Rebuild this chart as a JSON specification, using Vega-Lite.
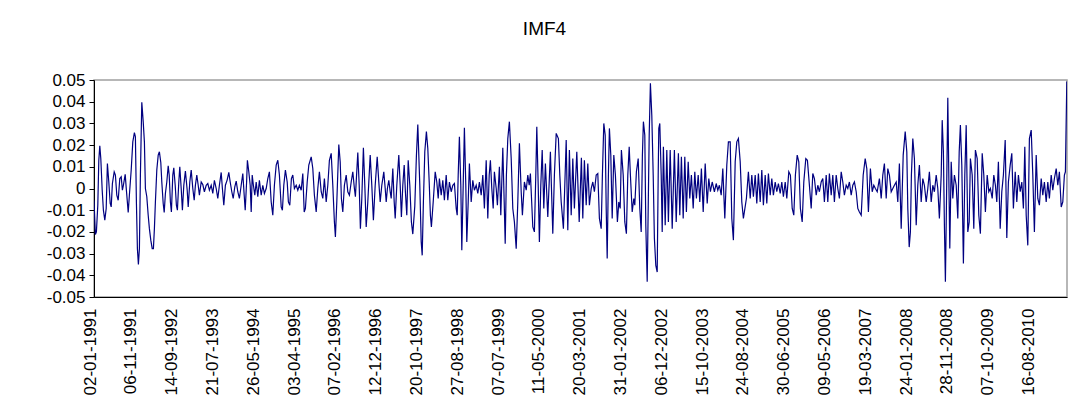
{
  "$schema": "https://vega.github.io/schema/vega-lite/v6.json",
  "width": 973,
  "height": 217,
  "autosize": {"type": "none"},
  "padding": {"left": 94, "top": 80, "right": 16, "bottom": 113},
  "background": "white",
  "title": {"text": "IMF4", "fontSize": 19, "font": "Liberation Sans", "fontWeight": "normal", "color": "#000000", "anchor": "middle", "frame": "group", "dx": -36, "offset": 17, "baseline": "alphabetic"},
  "data": {"values": [
    {"t":0,"v":-0.0054},{"t":7,"v":-0.0212},{"t":12,"v":-0.020},{"t":19,"v":-0.0077},{"t":24,"v":0.013},{"t":29,"v":0.0197},{"t":34,"v":0.0138},{"t":41,"v":-0.0008},{"t":47,"v":-0.010},{"t":54,"v":-0.0146},{"t":61,"v":-0.0092},{"t":67,"v":0.0115},{"t":74,"v":0.003},{"t":81,"v":-0.0069},{"t":86,"v":-0.0085},{"t":92,"v":0.0023},{"t":101,"v":0.0077},{"t":107,"v":0.0062},{"t":114,"v":-0.0031},{"t":121,"v":-0.0054},{"t":129,"v":0.0046},{"t":136,"v":0.0054},{"t":142,"v":-0.0008},{"t":147,"v":0.0015},{"t":156,"v":0.0065},{"t":162,"v":-0.0008},{"t":171,"v":-0.011},{"t":177,"v":-0.003},{"t":186,"v":0.0085},{"t":194,"v":0.0215},{"t":202,"v":0.0258},{"t":207,"v":0.0238},{"t":212,"v":-0.0062},{"t":217,"v":-0.0277},{"t":222,"v":-0.035},{"t":227,"v":-0.0277},{"t":232,"v":0.0062},{"t":239,"v":0.0397},{"t":246,"v":0.0308},{"t":252,"v":0.0215},{"t":257,"v":0},{"t":264,"v":-0.0038},{"t":271,"v":-0.0123},{"t":277,"v":-0.0185},{"t":284,"v":-0.0238},{"t":291,"v":-0.0277},{"t":297,"v":-0.0277},{"t":302,"v":-0.0185},{"t":307,"v":-0.0062},{"t":314,"v":0.0085},{"t":321,"v":0.0154},{"t":327,"v":0.0169},{"t":334,"v":0.012},{"t":339,"v":0.003},{"t":346,"v":-0.0069},{"t":351,"v":-0.011},{"t":357,"v":-0.0023},{"t":364,"v":0.003},{"t":371,"v":0.0105},{"t":376,"v":0.0062},{"t":382,"v":-0.0062},{"t":387,"v":-0.0108},{"t":394,"v":0.0062},{"t":399,"v":0.0095},{"t":406,"v":0.0015},{"t":412,"v":-0.0077},{"t":417,"v":-0.010},{"t":424,"v":0.003},{"t":429,"v":0.010},{"t":436,"v":0},{"t":442,"v":-0.010},{"t":449,"v":0.0015},{"t":457,"v":0.008},{"t":466,"v":-0.0008},{"t":471,"v":-0.0085},{"t":479,"v":0.003},{"t":486,"v":0.0085},{"t":494,"v":0},{"t":501,"v":-0.0054},{"t":507,"v":0.0015},{"t":514,"v":0.0062},{"t":521,"v":0.0015},{"t":527,"v":-0.0031},{"t":536,"v":0.003},{"t":544,"v":0.0018},{"t":552,"v":-0.0015},{"t":561,"v":0.0015},{"t":569,"v":0.0023},{"t":577,"v":-0.0008},{"t":586,"v":0.0015},{"t":594,"v":-0.0023},{"t":602,"v":0.0038},{"t":611,"v":0},{"t":619,"v":-0.0046},{"t":627,"v":0.0015},{"t":636,"v":0.0074},{"t":642,"v":0},{"t":649,"v":-0.0077},{"t":657,"v":0.0015},{"t":666,"v":0.004},{"t":674,"v":0.0074},{"t":681,"v":0.003},{"t":689,"v":-0.0015},{"t":696,"v":-0.0046},{"t":704,"v":0.0008},{"t":711,"v":0.0034},{"t":719,"v":-0.0015},{"t":727,"v":-0.0046},{"t":736,"v":0.0015},{"t":744,"v":0.0069},{"t":751,"v":-0.0031},{"t":756,"v":-0.010},{"t":763,"v":0.003},{"t":767,"v":0.013},{"t":774,"v":0.0077},{"t":781,"v":0.0015},{"t":786,"v":-0.0108},{"t":791,"v":0.0062},
    {"t":797,"v":0.0015},{"t":804,"v":-0.0031},{"t":811,"v":0.003},{"t":819,"v":-0.0038},{"t":827,"v":0.0038},{"t":836,"v":-0.0031},{"t":844,"v":0.0015},{"t":852,"v":-0.0023},{"t":861,"v":0},{"t":869,"v":0.0046},{"t":877,"v":0.0077},{"t":886,"v":-0.0062},{"t":894,"v":-0.0123},{"t":902,"v":0.0015},{"t":911,"v":0.0108},{"t":919,"v":0.013},{"t":927,"v":0.0062},{"t":936,"v":-0.0085},{"t":942,"v":-0.010},{"t":949,"v":0.0015},{"t":957,"v":0.0085},{"t":966,"v":0.003},{"t":972,"v":-0.0062},{"t":979,"v":-0.0077},{"t":987,"v":0.0046},{"t":994,"v":0.0062},{"t":1002,"v":0},{"t":1011,"v":0.0015},{"t":1019,"v":-0.0008},{"t":1027,"v":0.0015},{"t":1036,"v":-0.0008},{"t":1044,"v":0.0069},{"t":1051,"v":-0.0108},{"t":1057,"v":-0.0092},{"t":1066,"v":0.003},{"t":1074,"v":0.0108},{"t":1086,"v":0.0146},{"t":1094,"v":0.0092},{"t":1102,"v":-0.0031},{"t":1111,"v":-0.0108},{"t":1119,"v":0},{"t":1127,"v":0.0077},{"t":1136,"v":-0.0015},{"t":1144,"v":-0.0046},{"t":1152,"v":0.0046},{"t":1161,"v":-0.0062},{"t":1169,"v":0.0015},{"t":1177,"v":0.013},{"t":1186,"v":0.0162},{"t":1194,"v":0.0015},{"t":1202,"v":-0.0154},{"t":1207,"v":-0.0223},{"t":1214,"v":-0.0062},{"t":1224,"v":0.0203},{"t":1231,"v":0.0123},{"t":1237,"v":-0.0046},{"t":1244,"v":-0.0108},{"t":1252,"v":0.0015},{"t":1261,"v":0.0062},{"t":1269,"v":-0.0015},{"t":1277,"v":-0.0031},{"t":1286,"v":0.003},{"t":1294,"v":0.0077},{"t":1302,"v":0},{"t":1307,"v":-0.0038},{"t":1319,"v":0.0166},{"t":1326,"v":0.0015},{"t":1332,"v":-0.0185},{"t":1339,"v":-0.0046},{"t":1347,"v":0.0188},{"t":1354,"v":0.0015},{"t":1361,"v":-0.0177},{"t":1369,"v":-0.0062},{"t":1381,"v":0.0154},{"t":1389,"v":0.0015},{"t":1397,"v":-0.0146},{"t":1406,"v":0.0015},{"t":1416,"v":0.0146},{"t":1424,"v":0.003},{"t":1431,"v":-0.0062},{"t":1439,"v":0.0015},{"t":1449,"v":0.0077},{"t":1456,"v":0},{"t":1461,"v":-0.0062},{"t":1467,"v":0},{"t":1474,"v":0.0038},{"t":1481,"v":-0.0015},{"t":1486,"v":-0.0046},{"t":1494,"v":0.0092},{"t":1501,"v":-0.0062},{"t":1506,"v":-0.0138},{"t":1514,"v":0.0015},{"t":1524,"v":0.0154},{"t":1531,"v":0.0015},{"t":1537,"v":-0.0131},{"t":1544,"v":0.0015},{"t":1551,"v":0.0108},{"t":1557,"v":-0.0015},{"t":1564,"v":-0.0123},{"t":1571,"v":0.013},{"t":1579,"v":0.0015},{"t":1587,"v":-0.0154},{"t":1594,"v":-0.021},{"t":1604,"v":-0.008},{"t":1612,"v":0.015},{"t":1619,"v":0.0295},
    {"t":1629,"v":0.0015},{"t":1636,"v":-0.0246},{"t":1641,"v":-0.0308},{"t":1647,"v":-0.0062},{"t":1654,"v":0.0169},{"t":1662,"v":0.0262},{"t":1669,"v":0.0185},{"t":1676,"v":0.003},{"t":1682,"v":-0.0123},{"t":1687,"v":-0.0177},{"t":1696,"v":-0.0062},{"t":1706,"v":0.0077},{"t":1714,"v":0.003},{"t":1721,"v":-0.0046},{"t":1727,"v":0.0046},{"t":1736,"v":-0.0031},{"t":1744,"v":0.0038},{"t":1752,"v":-0.0054},{"t":1761,"v":0.0062},{"t":1769,"v":-0.0054},{"t":1777,"v":0.003},{"t":1786,"v":-0.0015},{"t":1794,"v":0.0015},{"t":1802,"v":0.0023},{"t":1811,"v":-0.0092},{"t":1816,"v":-0.0123},{"t":1821,"v":0.0062},{"t":1827,"v":0.0238},{"t":1834,"v":0.0015},{"t":1839,"v":-0.0285},{"t":1846,"v":0.0015},{"t":1852,"v":0.028},{"t":1859,"v":0.0015},{"t":1864,"v":-0.0246},{"t":1871,"v":-0.0062},{"t":1877,"v":0.0115},{"t":1886,"v":-0.0062},{"t":1894,"v":0.0038},{"t":1902,"v":-0.0008},{"t":1911,"v":0.0015},{"t":1919,"v":-0.0023},{"t":1927,"v":0.003},{"t":1936,"v":-0.0031},{"t":1944,"v":0.0062},{"t":1952,"v":-0.0092},{"t":1961,"v":0.013},{"t":1969,"v":-0.0138},{"t":1976,"v":0.0062},{"t":1982,"v":0.013},{"t":1989,"v":0},{"t":1996,"v":-0.0092},{"t":2002,"v":0.0077},{"t":2011,"v":0},{"t":2017,"v":-0.0077},{"t":2027,"v":0.010},{"t":2034,"v":-0.0123},{"t":2044,"v":0.0188},{"t":2051,"v":-0.0062},{"t":2056,"v":-0.0254},{"t":2062,"v":0.0062},{"t":2069,"v":0.023},{"t":2077,"v":0.0308},{"t":2086,"v":0.0138},{"t":2094,"v":-0.0092},{"t":2102,"v":-0.0154},{"t":2111,"v":-0.0277},{"t":2119,"v":-0.0062},{"t":2127,"v":0.0208},{"t":2136,"v":-0.0015},{"t":2142,"v":-0.0123},{"t":2152,"v":0.003},{"t":2161,"v":-0.0008},{"t":2169,"v":0.0062},{"t":2176,"v":0.0015},{"t":2182,"v":0.0069},{"t":2194,"v":-0.0177},{"t":2202,"v":-0.020},{"t":2209,"v":0.0062},{"t":2214,"v":0.0285},{"t":2221,"v":0.0015},{"t":2227,"v":-0.0246},{"t":2234,"v":0.0015},{"t":2241,"v":0.0177},{"t":2249,"v":-0.0092},{"t":2257,"v":0.0115},{"t":2269,"v":-0.0131},{"t":2276,"v":0.003},{"t":2282,"v":0.0169},{"t":2294,"v":-0.0208},{"t":2302,"v":0.0062},{"t":2311,"v":0.0254},{"t":2322,"v":0.023},{"t":2329,"v":0.0062},{"t":2336,"v":-0.0062},{"t":2347,"v":-0.0185},{"t":2354,"v":0.0015},{"t":2361,"v":0.0223},{"t":2369,"v":-0.0192},{"t":2377,"v":0.0177},{"t":2386,"v":-0.0123},{"t":2394,"v":0.0138},{"t":2402,"v":-0.0092},{"t":2414,"v":0.0169},{"t":2426,"v":-0.0154},
    {"t":2437,"v":0.0142},{"t":2444,"v":-0.0138},{"t":2452,"v":0.013},{"t":2461,"v":-0.0077},{"t":2469,"v":0.0115},{"t":2477,"v":-0.0077},{"t":2486,"v":0},{"t":2494,"v":0.003},{"t":2502,"v":-0.0015},{"t":2511,"v":0.0062},{"t":2519,"v":0.0069},{"t":2527,"v":-0.0138},{"t":2536,"v":-0.0185},{"t":2542,"v":0.0062},{"t":2549,"v":0.030},{"t":2556,"v":0.0246},{"t":2561,"v":-0.0092},{"t":2566,"v":-0.0323},{"t":2572,"v":0.0062},{"t":2577,"v":0.0277},{"t":2584,"v":0.0154},{"t":2591,"v":-0.0138},{"t":2599,"v":0.0154},{"t":2607,"v":0.0062},{"t":2617,"v":-0.0154},{"t":2624,"v":-0.0062},{"t":2631,"v":-0.0092},{"t":2637,"v":0.0177},{"t":2646,"v":0.0062},{"t":2654,"v":-0.0154},{"t":2662,"v":-0.0208},{"t":2669,"v":0.0062},{"t":2676,"v":0.0192},{"t":2682,"v":0.0062},{"t":2691,"v":-0.0108},{"t":2699,"v":-0.0046},{"t":2704,"v":-0.0077},{"t":2712,"v":0.0077},{"t":2721,"v":0.0138},{"t":2729,"v":-0.0092},{"t":2736,"v":-0.020},{"t":2742,"v":0.0154},{"t":2747,"v":0.0308},{"t":2754,"v":0.0246},{"t":2759,"v":-0.0169},{"t":2766,"v":-0.043},{"t":2771,"v":-0.0092},{"t":2776,"v":0.0246},{"t":2782,"v":0.0485},{"t":2789,"v":0.0338},{"t":2796,"v":0.0062},{"t":2802,"v":-0.023},{"t":2809,"v":-0.0354},{"t":2816,"v":-0.0385},{"t":2821,"v":0.0062},{"t":2824,"v":0.0277},{"t":2829,"v":0.030},{"t":2836,"v":0.0062},{"t":2841,"v":-0.020},{"t":2847,"v":0.0192},{"t":2856,"v":-0.0169},{"t":2864,"v":0.0177},{"t":2872,"v":-0.0154},{"t":2881,"v":0.0177},{"t":2891,"v":-0.0185},{"t":2902,"v":0.0177},{"t":2911,"v":-0.0154},{"t":2922,"v":0.0162},{"t":2929,"v":-0.0123},{"t":2937,"v":0.0146},{"t":2946,"v":-0.0138},{"t":2954,"v":0.0146},{"t":2962,"v":-0.0108},{"t":2971,"v":0.0123},{"t":2979,"v":-0.0046},{"t":2987,"v":0.0062},{"t":2996,"v":-0.0092},{"t":3004,"v":0.0077},{"t":3012,"v":-0.0046},{"t":3021,"v":0.0062},{"t":3029,"v":-0.0062},{"t":3037,"v":0.0092},{"t":3046,"v":-0.0108},{"t":3056,"v":0.0115},{"t":3066,"v":-0.0069},{"t":3074,"v":0.0046},{"t":3082,"v":-0.0015},{"t":3091,"v":0.003},{"t":3102,"v":-0.0015},{"t":3111,"v":0.0023},{"t":3119,"v":-0.0008},{"t":3127,"v":0.0015},{"t":3136,"v":-0.0031},{"t":3144,"v":0.0092},{"t":3154,"v":-0.0138},{"t":3164,"v":0.0108},{"t":3172,"v":0.0215},{"t":3181,"v":0.0215},{"t":3189,"v":-0.0138},{"t":3197,"v":-0.0238},{"t":3206,"v":0.0123},{"t":3214,"v":0.0215},{"t":3222,"v":0.023},{"t":3231,"v":0.0123},{"t":3239,"v":-0.0062},{"t":3247,"v":-0.0138},
    {"t":3262,"v":-0.0046},{"t":3272,"v":0.0077},{"t":3281,"v":-0.0046},{"t":3289,"v":0.0062},{"t":3297,"v":-0.0038},{"t":3306,"v":0.0062},{"t":3314,"v":-0.0069},{"t":3322,"v":0.0069},{"t":3331,"v":-0.0062},{"t":3339,"v":0.0085},{"t":3347,"v":-0.0077},{"t":3356,"v":0.0062},{"t":3364,"v":-0.0069},{"t":3372,"v":0.0069},{"t":3381,"v":-0.0031},{"t":3389,"v":0.0046},{"t":3397,"v":-0.0031},{"t":3406,"v":0.003},{"t":3414,"v":-0.0015},{"t":3422,"v":0.0023},{"t":3431,"v":-0.0023},{"t":3439,"v":0.003},{"t":3447,"v":-0.0038},{"t":3456,"v":0.003},{"t":3464,"v":-0.0046},{"t":3474,"v":0.0077},{"t":3482,"v":0.0062},{"t":3491,"v":-0.0092},{"t":3499,"v":-0.0123},{"t":3507,"v":0.0062},{"t":3516,"v":0.0154},{"t":3524,"v":0.0123},{"t":3532,"v":-0.0092},{"t":3541,"v":-0.0154},{"t":3549,"v":0.003},{"t":3559,"v":0.0138},{"t":3567,"v":0.013},{"t":3577,"v":0.0015},{"t":3586,"v":-0.0092},{"t":3594,"v":0.0069},{"t":3602,"v":0.0046},{"t":3611,"v":-0.0031},{"t":3619,"v":0.0015},{"t":3627,"v":-0.0015},{"t":3636,"v":0.003},{"t":3644,"v":0.0046},{"t":3652,"v":-0.0062},{"t":3661,"v":0.0062},{"t":3669,"v":-0.0062},{"t":3677,"v":0.0069},{"t":3686,"v":-0.0031},{"t":3694,"v":0.0062},{"t":3702,"v":-0.0062},{"t":3711,"v":0.0062},{"t":3719,"v":0},{"t":3727,"v":-0.0046},{"t":3736,"v":0.0077},{"t":3744,"v":0.003},{"t":3752,"v":-0.0031},{"t":3761,"v":0.0015},{"t":3769,"v":0},{"t":3777,"v":0.003},{"t":3786,"v":-0.0031},{"t":3794,"v":0.0015},{"t":3802,"v":0.003},{"t":3811,"v":-0.0015},{"t":3819,"v":-0.0092},{"t":3827,"v":-0.0108},{"t":3836,"v":-0.0123},{"t":3846,"v":0.0062},{"t":3856,"v":0.0138},{"t":3864,"v":0.0092},{"t":3872,"v":-0.0108},{"t":3882,"v":0.0092},{"t":3891,"v":-0.0015},{"t":3899,"v":0.0015},{"t":3907,"v":0},{"t":3916,"v":-0.0015},{"t":3927,"v":0.0046},{"t":3936,"v":-0.0046},{"t":3944,"v":0.0062},{"t":3952,"v":0.0115},{"t":3961,"v":-0.0046},{"t":3969,"v":0.0092},{"t":3977,"v":0.0062},{"t":3986,"v":-0.0015},{"t":3994,"v":0},{"t":4002,"v":0.0015},{"t":4011,"v":0.003},{"t":4019,"v":-0.0062},{"t":4027,"v":0.0115},{"t":4036,"v":-0.0185},{"t":4046,"v":0.0154},{"t":4056,"v":0.0262},{"t":4064,"v":0.0169},{"t":4069,"v":-0.0092},{"t":4076,"v":-0.027},
    {"t":4082,"v":-0.020},{"t":4087,"v":0.0062},{"t":4094,"v":0.023},{"t":4102,"v":0.0138},{"t":4111,"v":-0.0169},{"t":4119,"v":0.0015},{"t":4127,"v":0.0108},{"t":4136,"v":-0.0062},{"t":4144,"v":0.0046},{"t":4152,"v":0.0015},{"t":4161,"v":-0.0062},{"t":4169,"v":0},{"t":4177,"v":0.0077},{"t":4186,"v":-0.0062},{"t":4194,"v":0.0015},{"t":4202,"v":-0.0015},{"t":4211,"v":0.0062},{"t":4219,"v":0},{"t":4227,"v":-0.0138},{"t":4236,"v":0.0062},{"t":4241,"v":0.0315},{"t":4247,"v":0.0169},{"t":4252,"v":-0.0169},{"t":4257,"v":-0.043},{"t":4262,"v":-0.0092},{"t":4269,"v":0.0418},{"t":4274,"v":0.0062},{"t":4279,"v":-0.0277},{"t":4286,"v":0.0123},{"t":4294,"v":-0.0046},{"t":4302,"v":0.0062},{"t":4311,"v":0.0015},{"t":4319,"v":-0.0138},{"t":4326,"v":0.0169},{"t":4332,"v":0.0292},{"t":4339,"v":0.0108},{"t":4347,"v":-0.0346},{"t":4354,"v":0.0062},{"t":4361,"v":0.0292},{"t":4369,"v":-0.020},{"t":4376,"v":-0.0154},{"t":4382,"v":0.0138},{"t":4391,"v":0.0062},{"t":4399,"v":-0.0185},{"t":4407,"v":0.0177},{"t":4416,"v":0.0138},{"t":4424,"v":-0.0123},{"t":4432,"v":-0.0208},{"t":4441,"v":0.0162},{"t":4449,"v":0.0062},{"t":4457,"v":-0.0108},{"t":4466,"v":0.0062},{"t":4474,"v":-0.0015},{"t":4482,"v":0},{"t":4491,"v":-0.0046},{"t":4499,"v":0.0062},{"t":4507,"v":0.0015},{"t":4514,"v":-0.0062},{"t":4522,"v":0.0123},{"t":4531,"v":-0.0185},{"t":4539,"v":-0.0015},{"t":4547,"v":0.0062},{"t":4556,"v":0.0223},{"t":4564,"v":-0.0228},{"t":4572,"v":0.003},{"t":4581,"v":0.0108},{"t":4589,"v":0.0162},{"t":4597,"v":-0.0092},{"t":4606,"v":0.0077},{"t":4614,"v":-0.0062},{"t":4622,"v":0.0062},{"t":4631,"v":-0.0015},{"t":4639,"v":0.003},{"t":4647,"v":-0.0092},{"t":4654,"v":0.0192},{"t":4661,"v":-0.0123},{"t":4669,"v":-0.0262},{"t":4677,"v":0.023},{"t":4686,"v":0.0269},{"t":4694,"v":0.0062},{"t":4702,"v":-0.020},{"t":4711,"v":0.0154},{"t":4719,"v":-0.0046},{"t":4727,"v":-0.0077},{"t":4736,"v":0.0046},{"t":4744,"v":-0.0031},{"t":4752,"v":0.003},{"t":4761,"v":-0.0062},{"t":4769,"v":0.003},{"t":4777,"v":-0.0046},{"t":4786,"v":0.0062},{"t":4794,"v":-0.0008},{"t":4802,"v":0.0046},{"t":4811,"v":0.0092},{"t":4819,"v":0.0015},{"t":4827,"v":0.0077},{"t":4836,"v":-0.0085},{"t":4844,"v":-0.0062},{"t":4852,"v":0.0062},{"t":4857,"v":0.0077},{"t":4864,"v":0.0493}
  ]},
  "mark": {"type": "line", "color": "#000080", "strokeWidth": 1.2, "clip": true},
  "encoding": {
    "x": {
      "field": "t", "type": "quantitative",
      "scale": {"domain": [0, 4865], "nice": false, "zero": false},
      "axis": {
        "title": null, "grid": false, "ticks": false, "tickSize": 0,
        "values": [0,204,408,612,816,1020,1224,1428,1632,1836,2040,2244,2448,2652,2856,3060,3264,3468,3672,3876,4080,4284,4488,4692],
        "labelExpr": "['02-01-1991','06-11-1991','14-09-1992','21-07-1993','26-05-1994','03-04-1995','07-02-1996','12-12-1996','20-10-1997','27-08-1998','07-07-1999','11-05-2000','20-03-2001','31-01-2002','06-12-2002','15-10-2003','24-08-2004','30-06-2005','09-05-2006','19-03-2007','24-01-2008','28-11-2008','07-10-2009','16-08-2010'][round(datum.value / 204)]",
        "labelAngle": 270, "labelAlign": "right", "labelBaseline": "middle",
        "labelFont": "Liberation Sans", "labelFontSize": 17, "labelColor": "#000000",
        "labelPadding": 11, "labelOffset": -4, "labelOverlap": false, "labelBound": false, "labelFlush": false,
        "domainColor": "#000000", "domainWidth": 1
      }
    },
    "y": {
      "field": "v", "type": "quantitative",
      "scale": {"domain": [-0.05, 0.05], "nice": false, "zero": false},
      "axis": {
        "title": null, "grid": false,
        "values": [-0.05,-0.04,-0.03,-0.02,-0.01,0,0.01,0.02,0.03,0.04,0.05],
        "labelExpr": "datum.value == 0 ? '0' : (datum.value < 0 ? '-' : '') + format(abs(datum.value), '.2f')",
        "labelFont": "Liberation Sans", "labelFontSize": 17, "labelColor": "#000000",
        "labelPadding": 4, "labelOverlap": false, "labelBound": false, "labelFlush": false,
        "tickSize": 5, "tickColor": "#000000", "tickWidth": 1,
        "domainColor": "#000000", "domainWidth": 1
      }
    }
  },
  "config": {"view": {"stroke": "#a0a0a0", "strokeWidth": 1.5}}
}
